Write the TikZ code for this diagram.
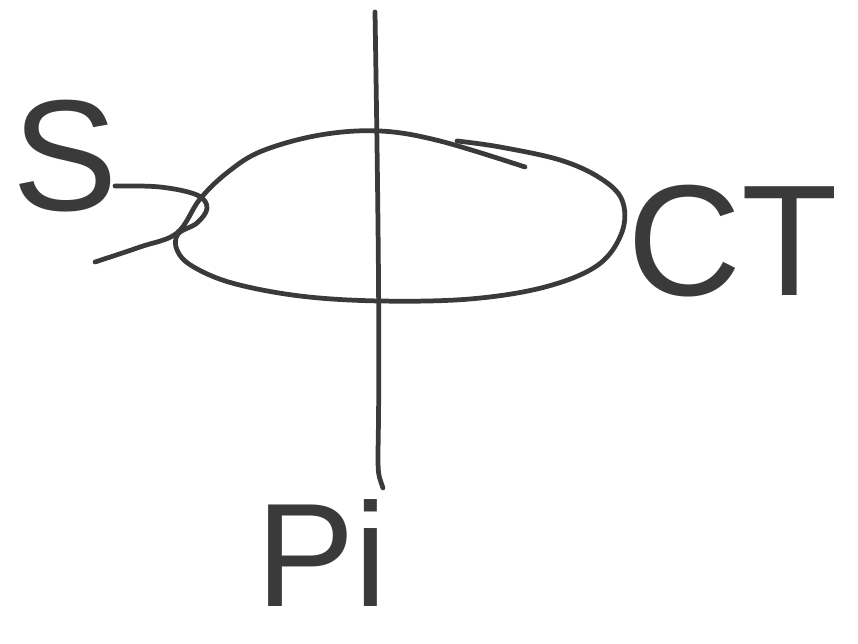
\documentclass[tikz,border=0pt]{standalone}
\usepackage{fontspec}
\setmainfont{Liberation Sans}
\definecolor{cpen}{HTML}{3A3A3A}
\tikzset{
  pen/.style={cpen, line width=2.7pt, line cap=round, line join=round},
  letter/.style={text=cpen, inner sep=0pt}
}
\begin{document}
\begin{tikzpicture}[x=0.02cm, y=-0.02cm]
\useasboundingbox (0,0) rectangle (858,644);
%% ------------------------------------------------------------------ axis
\draw[pen] (375,12) .. controls (378,200) and (380,350) .. (378,452)
  .. controls (378,474) .. (383,488);
%% ------------------------------------------------------------------ loop
% tail from lower left, running up into the top of the loop
\draw[pen] plot[smooth, tension=0.6] coordinates {
  (95,262) (140,247) (177,233) (200,199) (228,172) (262,151)
  (320,135) (380,131) (440,141) (525,167)};
% tail from the S, the small curl, then bottom and right end
\draw[pen] plot[smooth, tension=0.6] coordinates {
  (115,186) (160,187) (197,195) (207,208) (197,223) (178,234)
  (177,250) (192,266) (232,283) (300,296) (380,301) (470,299)
  (545,287) (598,265) (622,232) (622,200) (600,178) (560,160)
  (500,147) (457,141)};
%% ------------------------------------------------------------------ labels
\node[letter, font=\fontsize{90}{90}\selectfont] (s) at (65,156) {S};
\node[letter, font=\fontsize{90}{90}\selectfont] (ct) at (733,241) {CT};
\node[letter, font=\fontsize{84}{84}\selectfont, anchor=base] (pi) at (322,606) {Pi};
\end{tikzpicture}
\end{document}
